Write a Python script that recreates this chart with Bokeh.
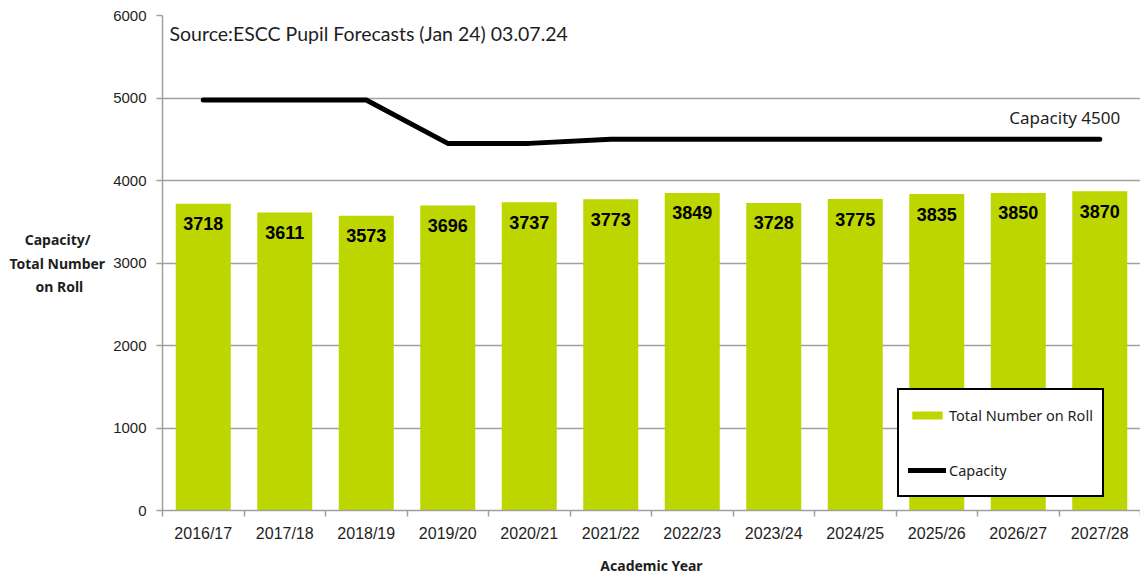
from bokeh.plotting import figure
from bokeh.models import Range1d, FixedTicker, Label, Legend, LegendItem, ColumnDataSource
from bokeh.core.properties import value
from bokeh.embed import file_html
from bokeh.resources import INLINE

years = ["2016/17", "2017/18", "2018/19", "2019/20", "2020/21", "2021/22",
         "2022/23", "2023/24", "2024/25", "2025/26", "2026/27", "2027/28"]
roll = [3718, 3611, 3573, 3696, 3737, 3773, 3849, 3728, 3775, 3835, 3850, 3870]
capacity = [4975, 4975, 4975, 4450, 4450, 4500, 4500, 4500, 4500, 4500, 4500, 4500]
y_ticks = [0, 1000, 2000, 3000, 4000, 5000, 6000]
source_note = "Source:ESCC Pupil Forecasts (Jan 24) 03.07.24"
cap_note = "Capacity 4500"
y_title_lines = ["Capacity/", "Total Number", "on Roll"]
x_title = "Academic Year"

idx = list(range(len(years)))
bounds = [i - 0.5 for i in range(len(years) + 1)]

# the axis title is right-aligned by Bokeh; pad short lines with no-break spaces to centre them
NB = "\u00a0"
y_title = "\n".join([y_title_lines[0] + NB * 4, y_title_lines[1], y_title_lines[2] + NB * 6])

p = figure(width=1140, height=577, output_backend="svg", toolbar_location=None,
           x_range=Range1d(-0.5, len(years) - 0.5), y_range=Range1d(0, 6000))
p.min_border_left = 162
p.min_border_right = 0
p.min_border_top = 15
p.min_border_bottom = 67
p.outline_line_color = None
p.background_fill_color = "white"
p.border_fill_color = "white"

GRAY = "#a0a0a0"
TXT = "#1e1e1e"

# x axis
p.xaxis.ticker = FixedTicker(ticks=idx, minor_ticks=bounds)
p.xaxis.major_label_overrides = {i: y for i, y in zip(idx, years)}
p.xaxis.major_tick_line_color = None
p.xaxis.minor_tick_line_color = GRAY
p.xaxis.minor_tick_out = 6
p.xaxis.minor_tick_in = 0
p.xaxis.minor_tick_line_width = 1.5
p.xaxis.axis_line_color = GRAY
p.xaxis.axis_line_width = 1.5
p.xaxis.major_label_standoff = 8
p.xaxis.major_label_text_font = "Liberation Sans"
p.xaxis.major_label_text_font_size = "16px"
p.xaxis.major_label_text_color = TXT
p.xaxis.axis_label = x_title
p.xaxis.axis_label_text_font = "Noto Sans"
p.xaxis.axis_label_text_font_style = "bold"
p.xaxis.axis_label_text_font_size = "14px"
p.xaxis.axis_label_text_color = TXT
p.xaxis.axis_label_standoff = 11

# y axis
p.yaxis.ticker = FixedTicker(ticks=y_ticks)
p.yaxis.major_tick_line_color = GRAY
p.yaxis.major_tick_out = 6
p.yaxis.major_tick_in = 0
p.yaxis.major_tick_line_width = 1.5
p.yaxis.minor_tick_line_color = None
p.yaxis.axis_line_color = GRAY
p.yaxis.axis_line_width = 1.5
p.yaxis.major_label_standoff = 10
p.yaxis.major_label_text_font = "Liberation Sans"
p.yaxis.major_label_text_font_size = "15px"
p.yaxis.major_label_text_color = TXT
p.yaxis.axis_label = y_title
p.yaxis.axis_label_orientation = "horizontal"
p.yaxis.axis_label_text_font = "Noto Sans"
p.yaxis.axis_label_text_font_style = "bold"
p.yaxis.axis_label_text_font_size = "14px"
p.yaxis.axis_label_text_line_height = 1.25
p.yaxis.axis_label_text_color = TXT
p.yaxis.axis_label_standoff = 5

p.xgrid.grid_line_color = None
p.ygrid.ticker = FixedTicker(ticks=y_ticks)
p.ygrid.grid_line_color = GRAY
p.ygrid.grid_line_width = 1.5

src = ColumnDataSource(dict(x=idx, roll=roll, cap=capacity, lbl=[str(v) for v in roll]))

bars = p.vbar(x="x", top="roll", width=0.675, source=src, fill_color="#bed600",
              line_color=None)
line = p.line(x="x", y="cap", source=src, line_color="black", line_width=5,
              line_cap="round", line_join="round")

p.text(x="x", y="roll", text="lbl", source=src, text_align="center",
       text_baseline="middle", y_offset=20, text_font=value("Liberation Sans"),
       text_font_style="bold", text_font_size="18px", text_color="black")

p.add_layout(Label(x=-0.5, y=6000, x_offset=7, y_offset=-18, text=source_note,
                   text_baseline="middle", text_font="Lato", text_font_size="19.5px",
                   text_color=TXT))
p.add_layout(Label(x=len(years) - 1, y=capacity[-1], x_offset=20.5, y_offset=22,
                   text=cap_note, text_align="right", text_baseline="middle",
                   text_font="Noto Sans", text_font_size="17px", text_color=TXT))

legend = Legend(items=[LegendItem(label="Total Number on Roll", renderers=[bars]),
                       LegendItem(label="Capacity", renderers=[line])],
                location=(735, 13), orientation="vertical",
                border_line_color="black", border_line_width=2, border_line_alpha=1,
                background_fill_color="white", background_fill_alpha=1,
                glyph_width=38, glyph_height=10, label_height=32,
                spacing=23, padding=9, label_standoff=3, margin=0,
                label_text_font="Noto Sans", label_text_font_size="14.5px",
                label_text_color=TXT)
p.add_layout(legend)

open("out.html", "w").write(file_html(p, INLINE))
